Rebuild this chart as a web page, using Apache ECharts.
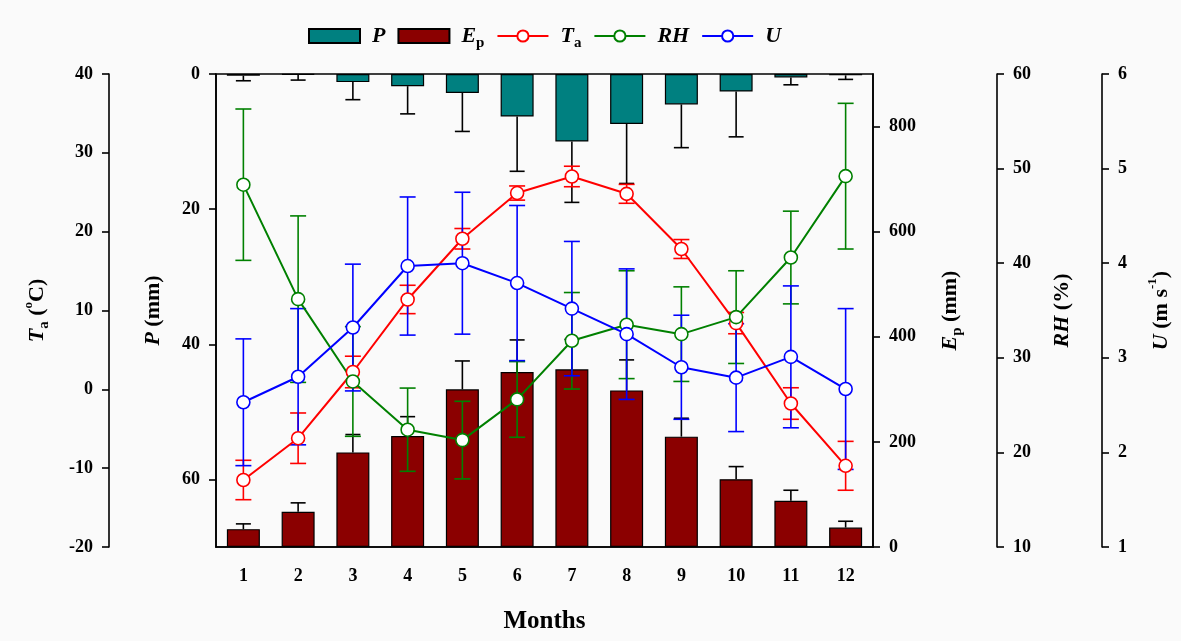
<!DOCTYPE html>
<html><head><meta charset="utf-8">
<script src="https://cdn.jsdelivr.net/npm/echarts@6/dist/echarts.min.js"></script>
<style>html,body{margin:0;padding:0;background:#fafafa}#c{width:1181px;height:641px}</style>
</head><body><div id="c"></div>
<script>
const months = ['1','2','3','4','5','6','7','8','9','10','11','12'];
const P     = [0.25, 0.1, 1.2, 1.8, 2.8, 6.3, 10.0, 7.4, 4.5, 2.6, 0.5, 0.2];
const P_err = [0.75, 0.8, 2.6, 4.1, 5.7, 8.1, 9.0, 8.8, 6.4, 6.7, 1.1, 0.6];
const Ep     = [34, 67, 180, 211, 300, 333, 338, 298, 210, 129, 88, 37];
const Ep_err = [10, 17, 34, 37, 54, 61, 57, 58, 35, 24, 20, 12];
const Ta     = [-11.5, -6.2, 2.2, 11.4, 19.1, 24.9, 27.0, 24.8, 17.8, 8.4, -1.8, -9.7];
const Ta_err = [2.5, 3.2, 2.0, 1.8, 1.3, 0.9, 1.3, 1.2, 1.2, 1.35, 2.0, 3.1];
const RH     = [48.3, 36.2, 27.5, 22.4, 21.3, 25.6, 31.8, 33.5, 32.5, 34.3, 40.6, 49.2];
const RH_err = [8.0, 8.8, 5.8, 4.4, 4.1, 4.0, 5.1, 5.7, 5.0, 4.9, 4.9, 7.7];
const U     = [2.53, 2.80, 3.32, 3.97, 4.00, 3.79, 3.52, 3.25, 2.90, 2.79, 3.01, 2.67];
const U_err = [0.67, 0.72, 0.67, 0.73, 0.75, 0.82, 0.71, 0.69, 0.55, 0.57, 0.75, 0.85];

const FF = '"Liberation Serif", "Times New Roman", serif';
const C = { P: '#008080', Ep: '#8b0000', Ta: '#ff0000', RH: '#008000', U: '#0000ff' };

function richSet(size) {
  return {
    i:   { fontFamily: FF, fontWeight: 'bold', fontStyle: 'italic', fontSize: size, lineHeight: 30, verticalAlign: 'middle', color: '#000' },
    n:   { fontFamily: FF, fontWeight: 'bold', fontSize: size, lineHeight: 30, verticalAlign: 'middle', color: '#000' },
    sub: { fontFamily: FF, fontWeight: 'bold', fontSize: Math.round(size * 0.7), lineHeight: 15, verticalAlign: 'bottom', color: '#000' },
    sup: { fontFamily: FF, fontWeight: 'bold', fontSize: Math.round(size * 0.6), lineHeight: 13, verticalAlign: 'top', color: '#000' }
  };
}

function errSeries(vals, errs, yIdx, color, both, cap, lw, z) {
  return {
    type: 'custom', yAxisIndex: yIdx, z: z, silent: true,
    renderItem(params, api) {
      const x = api.value(0), m = api.value(1), e = api.value(2);
      const p1 = api.coord([x, m + e]);
      const p0 = api.coord([x, both ? m - e : m]);
      const st = { stroke: color, lineWidth: lw };
      const ch = [
        { type: 'line', shape: { x1: p1[0], y1: p1[1], x2: p0[0], y2: p0[1] }, style: st },
        { type: 'line', shape: { x1: p1[0] - cap, y1: p1[1], x2: p1[0] + cap, y2: p1[1] }, style: st }
      ];
      if (both) ch.push({ type: 'line', shape: { x1: p0[0] - cap, y1: p0[1], x2: p0[0] + cap, y2: p0[1] }, style: st });
      return { type: 'group', children: ch };
    },
    encode: { x: 0, y: 1 },
    data: vals.map((v, i) => [i, v, errs[i]])
  };
}

function lineSeries(name, vals, yIdx, color) {
  return {
    type: 'line', name: name, yAxisIndex: yIdx, z: 10,
    data: vals, symbol: 'circle', symbolSize: 13, showAllSymbol: true,
    lineStyle: { color: color, width: 2 },
    itemStyle: { color: '#fff', borderColor: color, borderWidth: 1.6 }
  };
}

const axisCommon = {
  axisLine: { show: true, onZero: false, lineStyle: { color: '#000', width: 1.6 } },
  axisTick: { show: true, inside: false, length: 7, lineStyle: { color: '#000', width: 1.6 } },
  axisLabel: { fontFamily: FF, fontWeight: 'bold', fontSize: 18, color: '#000', margin: 16 },
  splitLine: { show: false },
  nameLocation: 'middle', nameRotate: 90,
  nameTextStyle: { rich: richSet(22) }
};

const legendNames = { 'P': '{i|P}', 'E_p': '{i|E}{sub|p}', 'T_a': '{i|T}{sub|a}', 'RH': '{i|RH}', 'U': '{i|U}' };
const legRich = richSet(22);
legRich.i = Object.assign({}, legRich.i, { padding: [0, 0, 0, 7] });

const option = {
  animation: false,
  backgroundColor: '#fafafa',
  grid: { left: 216, right: 308, top: 74, bottom: 94, show: true, borderColor: '#000', borderWidth: 1.6, backgroundColor: 'transparent' },
  legend: {
    top: 20, left: 303, itemWidth: 51, itemHeight: 14, itemGap: 12,
    data: [
      { name: 'P', icon: 'rect' },
      { name: 'E_p', icon: 'rect' },
      { name: 'T_a' }, { name: 'RH' }, { name: 'U' }
    ],
    formatter: n => legendNames[n],
    textStyle: { rich: legRich }
  },
  xAxis: {
    type: 'category', data: months, boundaryGap: true,
    axisLine: { onZero: false, lineStyle: { color: '#000', width: 1.6 } },
    axisTick: { alignWithLabel: true, length: 7, lineStyle: { color: '#000', width: 1.6 } },
    axisLabel: { fontFamily: FF, fontWeight: 'bold', fontSize: 18, color: '#000', margin: 20 },
    name: 'Months', nameLocation: 'middle', nameGap: 62,
    nameTextStyle: { fontFamily: FF, fontWeight: 'bold', fontSize: 25, color: '#000' }
  },
  yAxis: [
    Object.assign({}, axisCommon, { type: 'value', position: 'left', offset: 107, min: -20, max: 40, interval: 10,
      name: '{i|T}{sub|a}{n| (}{sup|o}{n|C)}', nameGap: 57 }),
    Object.assign({}, axisCommon, { type: 'value', position: 'left', offset: 0, min: 0, max: 70, interval: 20, inverse: true,
      axisLabel: Object.assign({}, axisCommon.axisLabel, { showMaxLabel: false }),
      name: '{i|P}{n| (mm)}', nameGap: 48 }),
    Object.assign({}, axisCommon, { type: 'value', position: 'right', offset: 0, min: 0, max: 900, interval: 200,
      axisLabel: Object.assign({}, axisCommon.axisLabel, { showMaxLabel: false }),
      name: '{i|E}{sub|p}{n| (mm)}', nameGap: 62 }),
    Object.assign({}, axisCommon, { type: 'value', position: 'right', offset: 124, min: 10, max: 60, interval: 10,
      name: '{i|RH}{n| (%)}', nameGap: 50 }),
    Object.assign({}, axisCommon, { type: 'value', position: 'right', offset: 229, min: 1, max: 6, interval: 1,
      name: '{i|U}{n| (m s}{sup|-1}{n|)}', nameGap: 44 })
  ],
  series: [
    { type: 'bar', name: 'P', yAxisIndex: 1, data: P, barWidth: 33, barGap: '-100%', z: 2,
      itemStyle: { color: C.P, borderColor: '#000', borderWidth: 1.2 } },
    { type: 'bar', name: 'E_p', yAxisIndex: 2, data: Ep, barWidth: 33, barGap: '-100%', z: 2,
      itemStyle: { color: C.Ep, borderColor: '#000', borderWidth: 1.2 } },
    errSeries(P, P_err, 1, '#000', false, 7.5, 1.6, 3),
    errSeries(Ep, Ep_err, 2, '#000', false, 7.5, 1.6, 3),
    errSeries(Ta, Ta_err, 0, C.Ta, true, 8, 1.6, 4),
    errSeries(RH, RH_err, 3, C.RH, true, 8, 1.6, 4),
    errSeries(U, U_err, 4, C.U, true, 8, 1.6, 4),
    lineSeries('T_a', Ta, 0, C.Ta),
    lineSeries('RH', RH, 3, C.RH),
    lineSeries('U', U, 4, C.U)
  ]
};
const chart = echarts.init(document.getElementById('c'), null, { renderer: 'canvas' });
chart.setOption(option);
</script>
</body></html>
